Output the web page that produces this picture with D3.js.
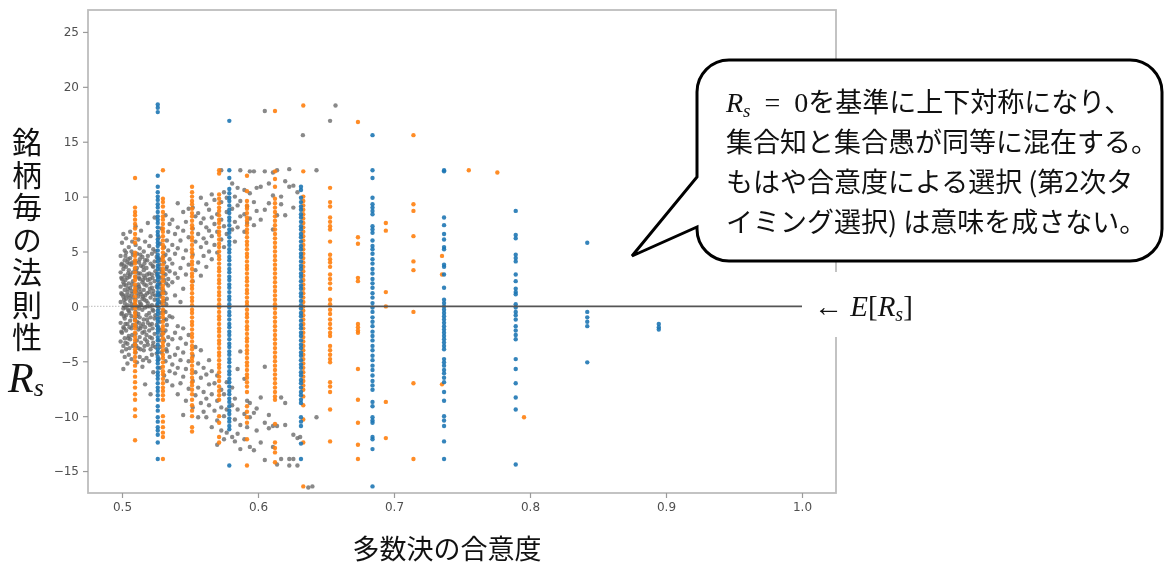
<!DOCTYPE html>
<html>
<head>
<meta charset="utf-8">
<script src="https://cdn.jsdelivr.net/npm/d3@7"></script>
<style>
  html, body { margin: 0; padding: 0; background: #fff; }
  svg { display: block; }
</style>
</head>
<body>
<svg id="chart" width="1164" height="566"></svg>
<script>
// ---- axis setup ----
const xTicks = [0.5, 0.6, 0.7, 0.8, 0.9, 1.0];
const yTicks = [-15, -10, -5, 0, 5, 10, 15, 20, 25];
const xDomain = [0.475, 1.025];
const yDomain = [-17, 27];

// ---- blue series: one column per consensus level ----
const blueX = [0.5263, 0.5789, 0.6316, 0.6842, 0.7368, 0.7895, 0.8421, 0.8947];
const blueY = [
  [18.4, 18.1, 17.7, 11.9, 10.9, 10.4, 10.0, 9.7, 9.3, 9.0, 8.6, 8.2, 7.9, 7.6, 7.2, 6.8, 6.5, 6.1, 5.8, 5.5, 5.1, 4.7, 4.4, 4.1, 3.7, 3.4, 3.0, 2.7, 2.4, 2.0, 1.7, 1.3, 1.0, 0.6, 0.3, 0.0, -0.4, -0.7, -1.1, -1.4, -1.8, -2.1, -2.4, -2.8, -3.1, -3.5, -3.9, -4.2, -4.6, -4.9, -5.2, -5.6, -6.0, -6.3, -6.6, -7.0, -7.4, -7.7, -8.1, -8.5, -9.1, -9.5, -10.1, -10.5, -11.0, -11.3, -11.7, -12.4, -13.9],
  [16.9, 12.4, 11.7, 10.7, 10.3, 9.9, 9.6, 9.2, 8.8, 8.5, 8.1, 7.8, 7.4, 7.0, 6.7, 6.3, 5.9, 5.6, 5.2, 4.9, 4.5, 4.2, 3.8, 3.4, 3.1, 2.7, 2.4, 2.0, 1.7, 1.3, 0.9, 0.6, 0.2, -0.1, -0.5, -0.8, -1.2, -1.6, -1.9, -2.3, -2.6, -3.0, -3.4, -3.7, -4.1, -4.4, -4.8, -5.1, -5.5, -5.9, -6.2, -6.6, -6.9, -7.3, -7.7, -8.0, -8.4, -8.7, -9.1, -9.5, -9.8, -10.2, -10.5, -10.9, -11.2, -14.5],
  [10.9, 10.6, 9.9, 9.5, 9.1, 8.8, 8.4, 8.1, 7.7, 7.3, 7.0, 6.6, 6.3, 5.9, 5.5, 5.2, 4.8, 4.5, 4.1, 3.7, 3.4, 3.0, 2.7, 2.3, 1.9, 1.6, 1.2, 0.9, 0.5, 0.1, -0.2, -0.6, -0.9, -1.3, -1.7, -2.0, -2.4, -2.7, -3.1, -3.5, -3.8, -4.2, -4.5, -4.9, -5.3, -5.6, -6.0, -6.3, -6.7, -7.0, -7.4, -7.8, -8.1, -8.5, -8.8, -10.1, -10.5, -10.9, -12.5, -13.9],
  [15.6, 12.4, 11.7, 9.9, 9.3, 9.0, 8.7, 8.4, 7.3, 7.0, 6.7, 6.0, 5.5, 5.2, 4.8, 4.3, 3.9, 3.4, 3.0, 2.5, 2.1, 1.7, 1.2, 0.8, 0.3, -0.1, -0.5, -1.0, -1.4, -1.8, -2.3, -2.7, -3.1, -3.6, -4.0, -4.5, -4.9, -5.4, -5.8, -6.3, -6.8, -7.2, -7.6, -8.7, -9.1, -10.1, -10.4, -10.6, -11.9, -12.1, -13.0, -16.4],
  [12.3, 12.4, 8.1, 7.4, 6.6, 6.1, 5.4, 5.2, 3.8, 3.6, 2.9, 1.7, 0.6, 0.3, 0.0, -0.3, -0.6, -0.9, -1.2, -1.5, -1.8, -2.1, -2.4, -2.7, -3.0, -3.3, -3.6, -3.9, -4.8, -5.1, -5.4, -5.8, -6.1, -6.5, -6.9, -7.8, -8.6, -10.0, -10.4, -10.9, -12.3, -13.9],
  [8.7, 6.5, 6.2, 4.7, 4.4, 4.1, 2.9, 2.3, 1.6, 1.3, 1.1, 0.2, -0.1, -0.5, -0.8, -1.2, -1.8, -2.2, -2.6, -3.0, -4.8, -5.7, -7.0, -8.3, -9.4, -14.4],
  [5.8, -0.5, -1.0, -1.4, -1.8, -5.1],
  [-1.6, -1.9, -2.1]
];

// ---- orange series ----
const orangeX = [0.5096, 0.5301, 0.5515, 0.5714, 0.5919, 0.6125, 0.6333, 0.653, 0.6735, 0.694, 0.7143, 0.7353, 0.755, 0.776, 0.7956];
const orangeY = [
  [11.7, 9.0, 8.6, 8.3, 7.9, 7.5, 7.1, 6.6, 6.2, 5.8, 4.9, 4.6, 4.2, 3.9, 3.5, 3.1, 2.7, 2.4, 2.0, 1.6, 1.3, 0.9, 0.5, 0.2, -0.2, -0.6, -0.9, -1.3, -1.7, -2.0, -2.4, -2.8, -3.1, -3.5, -3.9, -4.2, -4.6, -5.0, -5.4, -5.9, -6.4, -6.9, -7.4, -8.0, -8.5, -9.4, -10.0, -12.2],
  [12.4, 9.8, 9.5, 9.1, 8.6, 8.2, 7.9, 7.5, 7.1, 6.8, 6.4, 6.0, 5.6, 5.3, 4.9, 4.5, 4.2, 3.8, 3.4, 3.1, 2.7, 2.3, 1.9, 1.6, 1.2, 0.8, 0.5, 0.1, -0.3, -0.7, -1.0, -1.4, -1.8, -2.1, -2.5, -2.9, -3.3, -3.6, -4.0, -4.4, -4.7, -5.1, -5.5, -5.9, -6.2, -6.6, -7.0, -7.4, -7.7, -8.1, -8.5, -10.0, -10.5, -11.0, -11.5, -11.9, -13.9],
  [10.9, 10.4, 10.0, 9.6, 9.3, 8.9, 8.5, 8.2, 7.8, 7.4, 7.1, 6.7, 6.3, 6.0, 5.6, 5.2, 4.9, 4.5, 4.1, 3.8, 3.4, 3.0, 2.7, 2.3, 1.9, 1.6, 1.2, 0.8, 0.5, 0.1, -0.3, -0.6, -1.0, -1.4, -1.7, -2.1, -2.5, -2.8, -3.2, -3.6, -3.9, -4.3, -4.7, -5.0, -5.4, -5.8, -6.1, -6.5, -6.9, -7.2, -7.6, -8.0, -8.5, -9.0, -9.5, -10.0, -11.0, -11.4],
  [12.4, 12.1, 10.2, 9.8, 9.4, 9.0, 8.7, 8.3, 7.9, 7.6, 7.2, 6.8, 6.5, 6.1, 5.7, 5.4, 5.0, 4.6, 4.3, 3.9, 3.5, 3.2, 2.8, 2.4, 2.1, 1.7, 1.3, 1.0, 0.6, 0.2, -0.1, -0.5, -0.9, -1.2, -1.6, -2.0, -2.3, -2.7, -3.1, -3.4, -3.8, -4.2, -4.5, -4.9, -5.3, -5.6, -6.0, -6.4, -6.8, -7.3, -7.7, -8.1, -8.5, -10.0, -10.6, -11.9, -12.4],
  [11.9, 10.5, 9.6, 9.2, 8.9, 8.5, 8.1, 7.8, 7.4, 7.0, 6.7, 6.3, 5.9, 5.6, 5.2, 4.8, 4.5, 4.1, 3.7, 3.4, 3.0, 2.6, 2.3, 1.9, 1.5, 1.2, 0.8, 0.4, 0.1, -0.3, -0.7, -1.0, -1.4, -1.8, -2.1, -2.5, -2.9, -3.2, -3.6, -4.0, -4.3, -4.7, -5.1, -5.4, -5.8, -6.2, -6.5, -6.9, -7.3, -7.8, -9.1, -9.6, -10.1, -10.6, -12.1, -14.5],
  [17.8, 12.3, 11.6, 10.9, 9.8, 9.4, 9.0, 8.6, 8.2, 7.8, 7.4, 7.0, 6.6, 6.2, 5.8, 5.4, 5.0, 4.6, 4.2, 3.8, 3.4, 3.0, 2.6, 2.2, 1.8, 1.4, 1.0, 0.6, 0.2, -0.2, -0.6, -1.0, -1.4, -1.8, -2.2, -2.6, -3.0, -3.4, -3.8, -4.2, -4.6, -5.0, -5.4, -5.8, -6.2, -6.6, -7.0, -7.4, -7.8, -8.2, -8.5, -10.7, -12.4, -12.9, -13.3, -14.2],
  [18.3, 12.3, 10.0, 9.6, 9.2, 8.8, 8.4, 8.0, 7.6, 7.2, 6.8, 6.4, 6.0, 5.6, 5.2, 4.8, 4.4, 4.0, 3.6, 3.2, 2.8, 2.4, 2.0, 1.6, 1.2, 0.8, 0.4, 0.0, -0.4, -0.8, -1.2, -1.6, -2.0, -2.4, -2.8, -3.2, -3.6, -4.0, -4.4, -4.8, -5.2, -5.6, -6.0, -6.4, -6.8, -7.2, -7.6, -8.2, -9.0, -10.3, -12.4, -16.4],
  [10.8, 9.5, 9.1, 8.1, 7.7, 7.3, 7.0, 5.9, 4.7, 4.3, 4.0, 3.6, 2.9, 2.5, 2.1, 1.6, 0.6, 0.2, -0.3, -0.7, -1.2, -1.6, -2.0, -2.4, -2.7, -3.6, -4.0, -4.4, -4.8, -5.1, -6.9, -7.3, -7.8, -9.4, -12.3],
  [16.8, 6.3, 5.7, 2.6, 2.3, -1.6, -1.9, -2.2, -2.4, -5.7, -8.5, -10.6, -12.6, -13.9],
  [7.6, 6.9, 1.3, 0.0, -8.7, -12.0],
  [15.6, 9.3, 8.7, 6.4, 4.1, 3.3, -0.5, -7.0, -13.9],
  [4.6, 2.9, -7.1],
  [12.4],
  [12.2],
  [-10.1]
];

// ---- gray series: [consensus level, R_s values] ----
const grayCols = [
  [0.499, [-3.2, -1.5, 0.4, 1.8, 3.1, 4.6]],
  [0.4995, [-2.3, -0.7, 1.2, 2.6, 3.8]],
  [0.500, [-4.1, -2.4, -0.6, 1.1, 2.5, 3.9, 5.8]],
  [0.501, [-5.7, -3.6, -1.9, -0.2, 0.9, 2.2, 3.4, 6.6]],
  [0.5015, [-2.0, -0.9, 0.6, 2.0, 3.7]],
  [0.502, [-4.6, -2.9, -1.1, 0.3, 1.5, 2.8, 4.2, 5.1]],
  [0.5025, [-3.3, -1.6, -0.1, 1.0, 2.4, 4.6]],
  [0.503, [-3.9, -2.2, -0.8, 0.7, 1.9, 3.6, 4.9, 6.2]],
  [0.504, [-5.2, -3.4, -1.6, 0.1, 1.3, 2.6, 4.0]],
  [0.5045, [-2.9, -0.3, 1.6, 3.0, 4.3]],
  [0.505, [-4.4, -2.7, -0.4, 1.0, 2.1, 3.3, 5.4]],
  [0.5055, [-3.8, -1.9, -0.6, 0.8, 2.7, 3.9]],
  [0.506, [-3.0, -1.3, 0.5, 1.7, 2.9, 4.4, 6.8]],
  [0.507, [-4.8, -2.0, -0.9, 0.2, 1.4, 3.8, 5.0]],
  [0.5075, [-2.6, -0.2, 1.1, 2.0, 4.0, 5.9]],
  [0.508, [-3.6, -1.7, 0.8, 2.3, 3.1, 4.7]],
  [0.5095, [-3.4, -1.2, 0.2, 1.4, 3.4]],
  [0.510, [-4.2, -2.5, -0.5, 0.6, 1.8, 2.7, 4.1, 5.6, 7.3]],
  [0.5105, [-3.6, -1.8, -0.9, 1.5, 3.2]],
  [0.511, [-5.1, -3.1, -1.4, 0.0, 1.2, 3.5, 4.8]],
  [0.512, [-3.8, -2.1, -0.7, 0.9, 2.0, 3.0, 6.1]],
  [0.5125, [-1.5, -0.2, 1.8, 2.6, 4.0]],
  [0.513, [-4.6, -2.8, -1.0, 0.4, 1.6, 2.5, 4.3, 5.3]],
  [0.5135, [-3.9, -2.0, 0.1, 1.3, 3.0, 4.7]],
  [0.514, [-3.3, -1.8, 0.2, 1.1, 3.7, 6.9]],
  [0.515, [-5.5, -2.4, -0.3, 0.7, 2.2, 4.5]],
  [0.5155, [-4.9, -1.6, 0.9, 2.4, 3.6]],
  [0.516, [-4.0, -1.2, 1.5, 2.8, 3.3, 5.0]],
  [0.5165, [-3.6, -2.3, 0.6, 2.0, 3.9]],
  [0.517, [-7.1, -3.0, -1.9, -0.1, 1.0, 2.6, 4.2, 5.9]],
  [0.518, [-4.7, -2.6, -0.8, 0.5, 1.9, 3.5]],
  [0.5185, [-3.2, -1.2, 0.0, 1.2, 2.9, 4.2]],
  [0.519, [-3.5, -1.5, 0.3, 2.4, 4.6, 7.6]],
  [0.520, [-5.0, -2.2, -0.6, 1.3, 3.0, 5.5]],
  [0.5205, [-2.8, -1.7, 0.0, 1.6, 2.5]],
  [0.521, [-8.0, -3.9, -1.0, 0.8, 2.1, 3.9, 6.4]],
  [0.522, [-4.4, -2.9, -1.6, 0.1, 1.7, 2.9, 4.8]],
  [0.5225, [-3.6, -2.0, -0.3, 1.1, 2.6, 3.7]],
  [0.523, [-6.0, -3.3, -0.4, 1.4, 3.6, 5.2]],
  [0.524, [-2.5, -1.1, 0.6, 2.3, 4.1, 8.1]],
  [0.5245, [-3.7, -0.8, 1.0, 3.2, 5.0]],
  [0.5255, [-4.3, -1.7, 0.1, 1.8, 2.9, 4.5]],
  [0.527, [-4.8, -2.0, -0.2, 1.1, 2.7, 4.4, 6.3]],
  [0.5275, [-3.1, -1.0, 0.4, 2.2, 3.8]],
  [0.528, [-5.6, -3.7, -1.4, 0.9, 2.0, 3.4, 5.7]],
  [0.5285, [-2.2, -0.6, 1.2, 2.6, 4.2]],
  [0.529, [-4.2, -2.6, 0.3, 1.6, 3.1, 7.1]],
  [0.5305, [-2.4, -0.4, 1.4, 3.0, 4.6]],
  [0.531, [-6.3, -3.1, -1.2, 0.5, 2.4, 4.0, 5.4]],
  [0.532, [-5.0, -2.2, -0.5, 1.2, 2.9, 4.7, 8.3]],
  [0.5325, [-3.9, -1.2, 0.2, 2.1, 3.4]],
  [0.533, [-6.8, -4.1, -1.7, 0.7, 3.6, 6.0]],
  [0.534, [-3.5, -2.8, 1.9, 2.5, 5.1, 6.8]],
  [0.535, [-5.9, -4.6, -0.9, 3.2, 4.3, 7.5]],
  [0.537, [-7.2, -5.3, -3.0, -1.0, 2.2, 3.9, 5.6, 7.9]],
  [0.539, [-6.1, -4.4, -2.4, 1.0, 3.0, 4.8, 6.6]],
  [0.541, [-8.0, -5.6, -3.8, -1.8, 2.6, 5.3, 7.2, 9.4]],
  [0.543, [-7.0, -4.9, -2.9, 0.4, 3.5, 6.0]],
  [0.545, [-9.9, -6.4, -4.2, -2.0, 1.6, 4.4, 6.9, 8.6]],
  [0.547, [-8.6, -5.7, -3.4, 2.9, 5.1, 7.7]],
  [0.549, [-7.5, -5.0, -2.6, 3.8, 6.3, 8.9]],
  [0.552, [-9.2, -6.8, -4.5, 2.3, 4.7, 7.1, 9.0]],
  [0.554, [-8.1, -6.0, -3.7, 3.3, 5.9, 8.2]],
  [0.556, [-10.1, -7.4, -5.2, 4.0, 6.6, 8.5]],
  [0.558, [-8.8, -6.5, -4.0, 2.8, 5.4, 7.6, 9.9]],
  [0.560, [-9.6, -7.8, -5.6, 4.6, 6.2, 8.0]],
  [0.562, [-10.1, -8.4, -6.2, 3.6, 5.8, 7.2, 9.3]],
  [0.564, [-9.0, -7.1, -4.9, 5.0, 6.9, 8.8]],
  [0.566, [-11.0, -8.0, -5.9, 4.3, 6.4, 8.1, 10.2]],
  [0.568, [-9.5, -7.0, 5.6, 7.5, 9.7]],
  [0.570, [-12.6, -10.4, -8.6, -6.3, 4.9, 6.8, 8.4]],
  [0.573, [-11.3, -9.2, -7.6, 6.1, 7.9, 9.5, 12.4]],
  [0.575, [-12.1, -10.0, -8.0, 5.4, 7.3, 10.4]],
  [0.577, [-11.5, -9.4, -6.9, 6.6, 8.6, 9.9]],
  [0.581, [-11.9, -9.0, -7.4, 7.0, 8.9, 11.2]],
  [0.583, [-12.3, -10.3, -8.4, 5.9, 7.7, 10.0]],
  [0.585, [-11.6, -9.4, -5.7, 7.2, 9.2, 10.8]],
  [0.587, [-13.0, -10.8, -4.1, 8.2, 9.6, 12.4]],
  [0.590, [-12.1, -9.8, -6.6, 6.8, 8.4, 10.6]],
  [0.592, [-11.0, -8.6, 7.6, 9.1]],
  [0.594, [-12.8, -10.1, -8.8, 8.0, 10.3, 12.3]],
  [0.597, [-13.1, -9.7, 7.4, 9.5, 12.3]],
  [0.599, [-11.3, -9.3, 8.7, 10.8]],
  [0.602, [-12.4, -8.3, 7.9, 10.9]],
  [0.605, [-14.0, -10.6, -5.5, 8.8, 12.3, 17.8]],
  [0.608, [-11.1, -9.9, 9.4, 11.2]],
  [0.611, [-12.8, -10.9, 7.0, 10.1, 12.2]],
  [0.614, [-14.4, -10.9, 8.3, 12.4]],
  [0.617, [-13.9, -8.3, 9.3, 10.0]],
  [0.620, [-10.8, -8.8, 8.3, 11.4]],
  [0.623, [-14.5, -13.9, 10.9, 12.5]],
  [0.626, [-13.9, -11.7, 9.0, 11.0]],
  [0.629, [-14.5, -12.0, 10.4]],
  [0.631, [-11.9]],
  [0.633, [15.6]],
  [0.637, [-16.5]],
  [0.640, [-16.4]],
  [0.643, [-10.1, 12.4]],
  [0.653, [16.9]],
  [0.657, [18.3]]
];

// ---- layout ----
const frame = { left: 88, right: 836, top: 10, bottom: 493 };
const svg = d3.select('#chart');
const x = d3.scaleLinear().domain(xDomain).range([frame.left, frame.right]);
const y = d3.scaleLinear().domain(yDomain).range([frame.bottom, frame.top]);

const defs = svg.append('defs');
defs.append('filter').attr('id', 'soft')
  .attr('x', '-5%').attr('y', '-5%').attr('width', '110%').attr('height', '110%')
  .append('feGaussianBlur').attr('stdDeviation', 0.55);

const plot = svg.append('g').attr('filter', 'url(#soft)');

// axes frame
plot.append('rect')
  .attr('x', frame.left).attr('y', frame.top)
  .attr('width', frame.right - frame.left).attr('height', frame.bottom - frame.top)
  .attr('fill', 'none').attr('stroke', '#bdbdbd').attr('stroke-width', 1.8);

const xAxis = plot.append('g')
  .attr('transform', `translate(0,${frame.bottom})`)
  .call(d3.axisBottom(x).tickValues(xTicks).tickFormat(d3.format('.1f')).tickSize(5).tickPadding(4));
const yAxis = plot.append('g')
  .attr('transform', `translate(${frame.left},0)`)
  .call(d3.axisLeft(y).tickValues(yTicks).tickFormat(d3.format('d')).tickSize(5).tickPadding(4));
[xAxis, yAxis].forEach(g => {
  g.select('.domain').remove();
  g.selectAll('.tick line').attr('stroke', '#9a9a9a').attr('stroke-width', 1.2);
  g.selectAll('.tick text')
    .attr('fill', '#505050')
    .style('font-family', '"DejaVu Sans", sans-serif')
    .style('font-size', '12px');
});

// flatten the column tables into points
const toPts = (xs, ys) => xs.flatMap((xv, i) => ys[i].map(v => ({ x: xv, y: v })));
const grayPts = grayCols.flatMap(([xv, ys]) => ys.map(v => ({ x: xv, y: v })));
const orangePts = toPts(orangeX, orangeY);
const bluePts = toPts(blueX, blueY);

const dots = plot.append('g');
function drawDots(pts, color, op) {
  dots.append('g').selectAll('circle').data(pts).join('circle')
    .attr('cx', d => x(d.x)).attr('cy', d => y(d.y)).attr('r', 2.2)
    .attr('fill', color).attr('fill-opacity', op);
}
drawDots(grayPts, '#6a6a6a', 0.8);
drawDots(orangePts, '#ff7f0e', 0.9);
drawDots(bluePts, '#1f77b4', 0.9);

// expected value line E[R_s] = 0
plot.append('line')
  .attr('x1', x(0.475)).attr('x2', x(0.5)).attr('y1', y(0)).attr('y2', y(0))
  .attr('stroke', '#c8c8c8').attr('stroke-width', 1.4).attr('stroke-dasharray', '1.5,1.5');
plot.append('line')
  .attr('x1', x(0.5)).attr('x2', x(1.0)).attr('y1', y(0)).attr('y2', y(0))
  .attr('stroke', '#555').attr('stroke-width', 1.6);

// label for the mean line
svg.append('rect').attr('x', 806).attr('y', 272).attr('width', 130).attr('height', 65).attr('fill', '#fff');
const eLab = svg.append('text')
  .attr('x', 814).attr('y', y(0) + 10)
  .style('font-family', '"Liberation Serif", "DejaVu Serif", serif')
  .style('font-size', '29px').attr('fill', '#111');
eLab.append('tspan').text('\u2190 ');
eLab.append('tspan').style('font-style', 'italic').text('E');
eLab.append('tspan').text('[');
eLab.append('tspan').style('font-style', 'italic').text('R');
eLab.append('tspan').style('font-style', 'italic').style('font-size', '20px').attr('dy', 5).text('s');
eLab.append('tspan').attr('dy', -5).text(']');

// speech bubble
const L = 697, R = 1162, T = 60, B = 261, r = 32;
const tip = [632, 256], tailTop = 177, tailBot = 227;
const p = d3.path();
p.moveTo(L + r, T);
p.lineTo(R - r, T);
p.arcTo(R, T, R, T + r, r);
p.lineTo(R, B - r);
p.arcTo(R, B, R - r, B, r);
p.lineTo(L + r, B);
p.arcTo(L, B, L, B - r, r);
p.lineTo(L, tailBot);
p.lineTo(tip[0], tip[1]);
p.lineTo(L, tailTop);
p.lineTo(L, T + r);
p.arcTo(L, T, L + r, T, r);
p.closePath();
svg.append('path').attr('d', p.toString())
  .attr('fill', '#fff').attr('stroke', '#000').attr('stroke-width', 3)
  .attr('stroke-linejoin', 'miter');

const jp = '"Noto Sans CJK JP", sans-serif';
const bubbleLines = [
  'を基準に上下対称になり、',
  '集合知と集合愚が同等に混在する。',
  'もはや合意度による選択 (第2次タ',
  'イミング選択) は意味を成さない。'
];
const lineY = [112, 152, 192, 232];
bubbleLines.forEach((t, i) => {
  const tx = svg.append('text').attr('x', 726).attr('y', lineY[i])
    .style('font-size', '27px').attr('fill', '#111');
  if (i === 0) {
    const serif = '"Liberation Serif", "DejaVu Serif", serif';
    tx.append('tspan').style('font-family', serif).style('font-style', 'italic').style('font-size', '28px').text('R');
    tx.append('tspan').style('font-family', serif).style('font-style', 'italic').style('font-size', '19px').attr('dy', 5).text('s');
    tx.append('tspan').style('font-family', serif).style('font-size', '28px').attr('dy', -5).text('\u2002=\u20020');
  }
  tx.append('tspan').style('font-family', jp).text(t);
});

// y-axis title, set in vertical writing mode
const yTitle = '銘柄毎の法則性';
svg.append('text')
  .attr('x', 27).attr('y', 127)
  .style('writing-mode', 'vertical-rl')
  .style('letter-spacing', '2.5px')
  .style('font-family', jp).style('font-size', '30px').attr('fill', '#111')
  .text(yTitle);
const rs = svg.append('text').attr('x', 8).attr('y', 392)
  .style('font-family', '"Liberation Serif", "DejaVu Serif", serif')
  .style('font-style', 'italic').attr('fill', '#111');
rs.append('tspan').style('font-size', '42px').text('R');
rs.append('tspan').style('font-size', '26px').attr('dy', 4).text('s');

// x-axis title
svg.append('text').attr('x', 447).attr('y', 547)
  .attr('text-anchor', 'middle').attr('dominant-baseline', 'central')
  .style('font-family', jp).style('font-size', '27px').attr('fill', '#111')
  .text('多数決の合意度');
</script>
</body>
</html>
